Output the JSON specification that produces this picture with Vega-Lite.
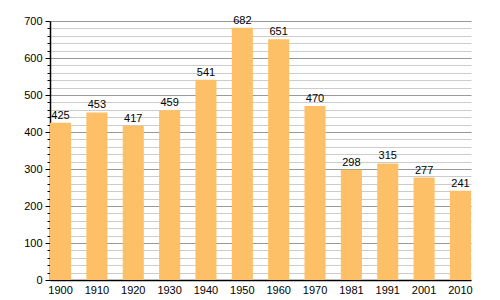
{
  "$schema": "https://vega.github.io/schema/vega-lite/v6.json",
  "autosize": {"type": "none"},
  "padding": {"left": 50, "top": 21, "right": 29, "bottom": 20},
  "width": 421,
  "height": 259,
  "background": "white",
  "config": {"view": {"stroke": null}, "font": "Liberation Sans"},
  "data": {"values": [
    {"year": "1900", "pop": 425},
    {"year": "1910", "pop": 453},
    {"year": "1920", "pop": 417},
    {"year": "1930", "pop": 459},
    {"year": "1940", "pop": 541},
    {"year": "1950", "pop": 682},
    {"year": "1960", "pop": 651},
    {"year": "1970", "pop": 470},
    {"year": "1981", "pop": 298},
    {"year": "1991", "pop": 315},
    {"year": "2001", "pop": 277},
    {"year": "2010", "pop": 241}
  ]},
  "encoding": {
    "x": {"field": "year", "type": "nominal", "sort": null,
      "scale": {"paddingInner": 0.42, "paddingOuter": 0},
      "axis": {"title": null, "labelAngle": 0, "ticks": false, "domainColor": "#000", "domainWidth": 1.5,
        "labelFontSize": 11, "labelColor": "#000", "labelPadding": 4}},
    "y": {"field": "pop", "type": "quantitative",
      "scale": {"domain": [0, 700], "nice": false},
      "axis": {"title": null,
        "values": [0,20,40,60,80,100,120,140,160,180,200,220,240,260,280,300,320,340,360,380,400,420,440,460,480,500,520,540,560,580,600,620,640,660,680,700],
        "labelExpr": "datum.value % 100 === 0 ? datum.label : ''",
        "labelFontSize": 11, "labelColor": "#000", "labelPadding": 3,
        "domainColor": "#000", "domainWidth": 1.5,
        "tickColor": "#000",
        "tickSize": {"condition": {"test": "datum.value % 100 === 0", "value": 5}, "value": 3},
        "grid": true,
        "gridColor": {"condition": {"test": "datum.value % 100 === 0", "value": "#999999"}, "value": "#cccccc"},
        "gridWidth": 1}}
  },
  "layer": [
    {"mark": {"type": "bar", "color": "#fec066"}},
    {"mark": {"type": "text", "baseline": "bottom", "dy": -2, "fontSize": 11, "color": "#000"},
      "encoding": {"text": {"field": "pop", "type": "quantitative"}}}
  ]
}
